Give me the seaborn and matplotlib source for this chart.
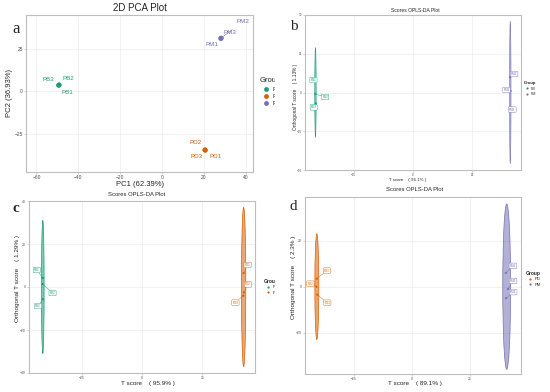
import pandas as pd
import matplotlib
matplotlib.use("Agg")
import matplotlib.pyplot as plt
import seaborn as sns
from matplotlib.patches import Ellipse, Rectangle

W, H = 550, 392
pal = {"PB": "#1B9E77", "PD": "#D95F02", "PM": "#7570B3"}

# panel a: PCA scores
a_group = ["PB", "PB", "PB", "PD", "PD", "PD", "PM", "PM", "PM"]
a_sample = ["PB1", "PB2", "PB3", "PD1", "PD2", "PD3", "PM1", "PM2", "PM3"]
a_pc1 = [-49.3, -49.1, -49.4, 20.7, 20.5, 20.6, 28.1, 28.3, 28.2]
a_pc2 = [3.4, 3.6, 3.5, -34.8, -34.6, -34.7, 30.9, 31.1, 31.0]

# panel b: OPLS-DA PB vs PM
b_group = ["PB", "PB", "PB", "PM", "PM", "PM"]
b_sample = ["PB1", "PB2", "PB3", "PM1", "PM2", "PM3"]
b_t = [-41.0, -41.1, -40.9, 40.8, 41.0, 40.9]
b_to = [8.0, -1.0, -7.0, 10.0, 1.0, -11.0]
b_ell_rx = [0.3, 0.3]
b_ell_ry = [29, 46]

# panel c: OPLS-DA PB vs PD
c_group = ["PB", "PB", "PB", "PD", "PD", "PD"]
c_sample = ["PB1", "PB2", "PB3", "PD1", "PD2", "PD3"]
c_t = [-41.0, -41.1, -40.9, 42.0, 42.1, 41.9]
c_to = [4.2, 1.4, -5.6, 6.5, -2.5, -4.0]
c_ell_rx = [0.55, 0.9]
c_ell_ry = [31, 37]

# panel d: OPLS-DA PD vs PM
d_group = ["PD", "PD", "PD", "PM", "PM", "PM"]
d_sample = ["PD1", "PD2", "PD3", "PM1", "PM2", "PM3"]
d_t = [-41.0, -41.2, -40.8, 40.5, 41.4, 40.6]
d_to = [3.5, 0.0, -3.5, 6.0, -1.0, -5.0]
d_ell_rx = [0.85, 1.7]
d_ell_ry = [23, 36]

sns.set_style("whitegrid")
plt.rcParams['font.family'] = ['Liberation Sans', 'DejaVu Sans']

fig = plt.figure(figsize=(5.5, 3.92), dpi=100)


def box(l, r, t, b):
    return [l / W, 1 - b / H, (r - l) / W, (b - t) / H]


def fx(x):
    return x / W


def fy(y):
    return 1 - y / H


def style(ax, fs):
    for s in ax.spines.values():
        s.set_color("#BEBEBE")
        s.set_linewidth(0.8)
    ax.grid(True, color="#EBEBEB", lw=0.5)
    ax.tick_params(length=1.5, width=0.5, color="#BEBEBE", labelsize=fs,
                   labelcolor="#4D4D4D", pad=0.8, bottom=True, left=True)
    ax.set_xlabel("")
    ax.set_ylabel("")


# ---------- a ----------
axa = fig.add_axes(box(26, 253, 15, 172))
dfa = pd.DataFrame({"PC1": a_pc1, "PC2": a_pc2, "Group": a_group, "Sample": a_sample})
sns.scatterplot(data=dfa, x="PC1", y="PC2", hue="Group", palette=pal, s=12,
                edgecolor="none", ax=axa, zorder=3)
axa.set_xlim(-65, 43.5)
axa.set_ylim(-47.6, 44.7)
axa.set_xticks([-60, -40, -20, 0, 20, 40])
axa.set_yticks([-25, 0, 25])
style(axa, 3.5)
a_off = {"PB1": (9, 7), "PB2": (9, -6), "PB3": (-10, -6),
         "PD1": (10, 6), "PD2": (-9, -7), "PD3": (-9, 6),
         "PM1": (-9, 6), "PM2": (22, -17), "PM3": (9, -6)}
for _, r in dfa.iterrows():
    dx, dy = a_off[r.Sample]
    kw = {}
    if r.Sample == "PM2":
        kw = dict(arrowprops=dict(arrowstyle="-", color=pal[r.Group], lw=0.4,
                                  shrinkA=3, shrinkB=2))
    axa.annotate(r.Sample, (r.PC1, r.PC2), xytext=(dx / 1.39, -dy / 1.39),
                 textcoords="offset points", ha="center", va="center",
                 fontsize=4.5, color=pal[r.Group], **kw)
sns.move_legend(axa, "upper left", bbox_to_anchor=(fx(257), fy(75)),
                bbox_transform=fig.transFigure, frameon=False, fontsize=4.5,
                title_fontsize=5.5, alignment="left", handletextpad=0.1,
                labelspacing=0.3, borderaxespad=0)
fig.text(fx(140), fy(8), "2D PCA Plot", ha="center", va="center", fontsize=7)
fig.text(fx(140), fy(184), "PC1 (62.39%)", ha="center", va="center", fontsize=5.5)
fig.text(fx(10), fy(93), "PC2 (36.93%)", ha="center", va="center", fontsize=5.5,
         rotation=90)


# ---------- OPLS panels ----------
def opls(rect, t, to, grp, smp, rx, ry, xlim, ylim, yticks, offs, fs_tick,
         leg_xy, fs_leg, ell_lw):
    ax = fig.add_axes(rect)
    df = pd.DataFrame({"T": t, "TO": to, "Group": grp, "Sample": smp})
    order = list(dict.fromkeys(grp))
    for i, g in enumerate(order):
        sub = df[df.Group == g]
        cen = (sub["T"].mean(), sub["TO"].mean())
        ax.add_patch(Ellipse(cen, 2 * rx[i], 2 * ry[i], fc=pal[g], ec="none",
                             alpha=0.55, zorder=1))
        ax.add_patch(Ellipse(cen, 2 * rx[i], 2 * ry[i], fc="none", ec=pal[g],
                             lw=ell_lw, zorder=2))
    sns.scatterplot(data=df, x="T", y="TO", hue="Group", hue_order=order,
                    palette=pal, s=2.5, edgecolor="none", ax=ax, zorder=3)
    ax.set_xlim(*xlim)
    ax.set_ylim(*ylim)
    ax.set_xticks([-25, 0, 25])
    ax.set_yticks(yticks)
    style(ax, fs_tick)
    for k, r in df.iterrows():
        dx, dy = offs[k]
        c = pal[r.Group]
        ax.annotate(r.Sample, (r["T"], r["TO"]), xytext=(dx / 1.39, -dy / 1.39),
                    textcoords="offset points", ha="center", va="center",
                    fontsize=2.2, color=c,
                    bbox=dict(boxstyle="round,pad=0.25", fc="white", ec=c, lw=0.3),
                    arrowprops=dict(arrowstyle="-", color=c, lw=0.3,
                                    shrinkA=0, shrinkB=0.5),
                    zorder=4)
    sns.move_legend(ax, "upper left", bbox_to_anchor=(fx(leg_xy[0]), fy(leg_xy[1])),
                    bbox_transform=fig.transFigure, frameon=False, fontsize=fs_leg,
                    title_fontsize=fs_leg + 0.5, alignment="left",
                    handletextpad=0.1, labelspacing=0.35, borderaxespad=0)
    ax.get_legend().get_title().set_fontweight("bold")
    return ax


axb = opls(box(305, 521, 15, 170), b_t, b_to, b_group, b_sample, b_ell_rx, b_ell_ry,
           (-45.4, 45.4), (-50, 50), [-50, -25, 0, 25, 50],
           [(-2, 0), (10, 3), (-2, 4), (4, -3), (-4, -1), (2, 0)], 2.2,
           (522, 80), 2.6, 0.4)
axc = opls(box(29, 255, 201, 373), c_t, c_to, c_group, c_sample, c_ell_rx, c_ell_ry,
           (-46.7, 46.7), (-40, 40), [-40, -20, 0, 20, 40],
           [(-6, -8), (10, 9), (-5, 7), (4, -8), (4, -8), (-8, 7)], 2.4,
           (262, 277), 3.0, 0.5)
axd = opls(box(305, 521, 197, 374), d_t, d_to, d_group, d_sample, d_ell_rx, d_ell_ry,
           (-46.1, 47), (-38, 39), [-20, 0, 20],
           [(10, -8), (-6, -3), (10, 8), (7, -7), (5, -8), (7, -6)], 2.4,
           (524, 269), 3.0, 0.5)
axb.set_zorder(2)
axd.set_zorder(2)
fig.add_artist(Rectangle((fx(275), 0), 1 - fx(275), 1, transform=fig.transFigure,
                         fc="white", ec="none", zorder=1))

fig.text(fx(415), fy(10), "Scores OPLS-DA Plot", ha="center", va="center", fontsize=3.6)
fig.text(fx(408), fy(180), "T score    ( 96.1% )", ha="center", va="center", fontsize=3.2)
fig.text(fx(296), fy(97), "Orthogonal T score    ( 1.13% )", ha="center", va="center",
         fontsize=3.4, rotation=90)

fig.text(fx(137), fy(194), "Scores OPLS-DA Plot", ha="center", va="center", fontsize=4.2)
fig.text(fx(148), fy(384), "T score    ( 95.9% )", ha="center", va="center", fontsize=4.6)
fig.text(fx(18), fy(279), "Orthogonal T score    ( 1.29% )", ha="center", va="center",
         fontsize=4.6, rotation=90)

fig.text(fx(415), fy(190), "Scores OPLS-DA Plot", ha="center", va="center", fontsize=4.2)
fig.text(fx(415), fy(384), "T score    ( 89.1% )", ha="center", va="center", fontsize=4.6)
fig.text(fx(293), fy(277), "Orthogonal T score    ( 2.3% )", ha="center", va="center",
         fontsize=4.6, rotation=90)

serif = ["Liberation Serif", "DejaVu Serif"]
fig.text(fx(16), fy(29), "a", ha="center", va="center", fontsize=12, family=serif)
fig.text(fx(294), fy(27), "b", ha="center", va="center", fontsize=11, family=serif)
fig.text(fx(16), fy(209), "c", ha="center", va="center", fontsize=11, family=serif,
         fontweight="bold")
fig.text(fx(293), fy(207), "d", ha="center", va="center", fontsize=11, family=serif)

fig.savefig("out.png", dpi=100)
